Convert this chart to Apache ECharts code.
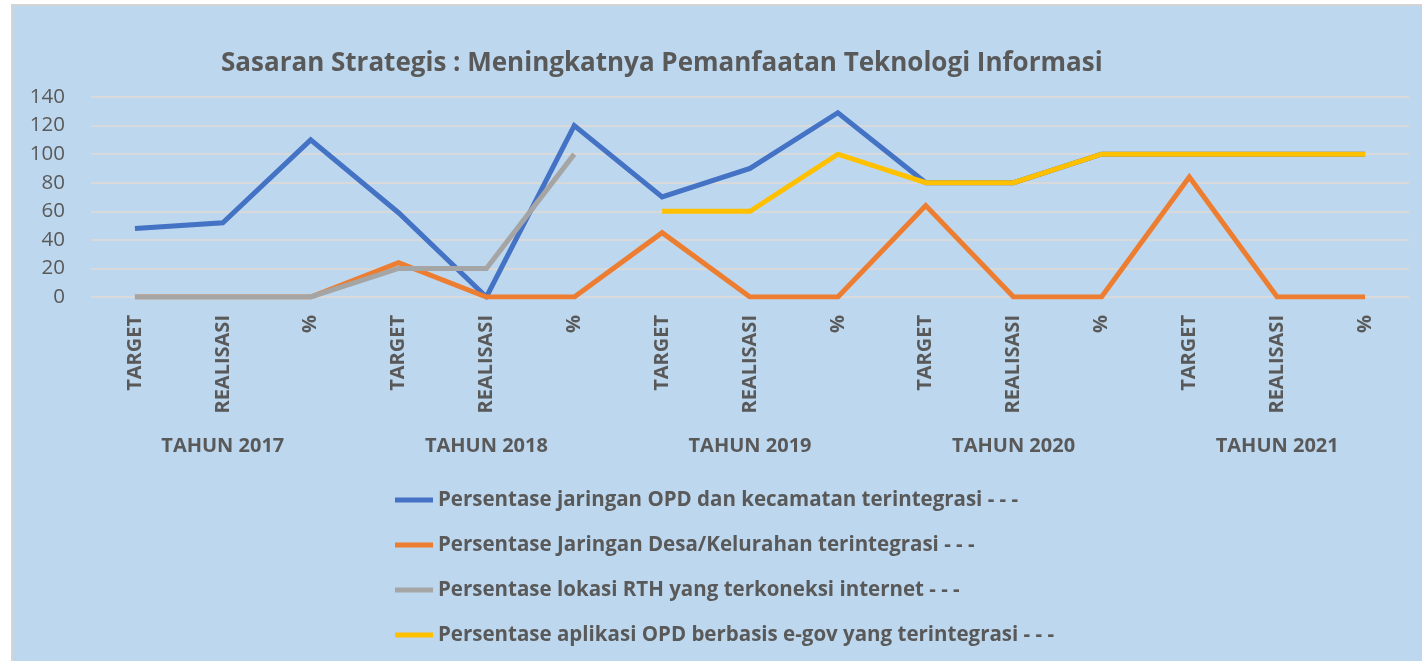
<!DOCTYPE html>
<html>
<head>
<meta charset="utf-8">
<title>Sasaran Strategis</title>
<script src="https://cdn.jsdelivr.net/npm/echarts@6/dist/echarts.min.js"></script>
<style>
  html, body { margin: 0; padding: 0; background: #ffffff; }
  #chart { width: 1422px; height: 661px; }
</style>
</head>
<body>
<div id="chart"></div>
<script>
// categories
const categories = [
  'TARGET', 'REALISASI', '%',
  'TARGET', 'REALISASI', '%',
  'TARGET', 'REALISASI', '%',
  'TARGET', 'REALISASI', '%',
  'TARGET', 'REALISASI', '%'
];
const years = ['TAHUN 2017', 'TAHUN 2018', 'TAHUN 2019', 'TAHUN 2020', 'TAHUN 2021'];

// series values
const jaringanOPD = [48, 52, 110, 59, 0, 120, 70, 90, 129, 80, 80, 100, 100, 100, 100];
const jaringanDesa = [0, 0, 0, 24, 0, 0, 45, 0, 0, 64, 0, 0, 84, 0, 0];
const lokasiRTH = [0, 0, 0, 20, 20, 100, null, null, null, null, null, null, null, null, null];
const aplikasiOPD = [null, null, null, null, null, null, 60, 60, 100, 80, 80, 100, 100, 100, 100];

const seriesNames = [
  'Persentase jaringan OPD dan kecamatan terintegrasi - - -',
  'Persentase Jaringan Desa/Kelurahan terintegrasi - - -',
  'Persentase lokasi RTH yang terkoneksi internet - - -',
  'Persentase aplikasi OPD berbasis e-gov yang terintegrasi - - -'
];
const colors = ['#4472C4', '#ED7D31', '#A5A5A5', '#FFC000'];

const textColor = '#595959';
const font = '"Open Sans", Lato, sans-serif';

const chart = echarts.init(document.getElementById('chart'));

function lineSeries(i, data) {
  return {
    name: seriesNames[i],
    type: 'line',
    data: data,
    symbol: 'none',
    lineStyle: { width: 5, color: colors[i], cap: 'butt', join: 'miter' },
    itemStyle: { color: colors[i] },
    z: 2 + i,
    animation: false
  };
}

const option = {
  animation: false,
  textStyle: { fontFamily: font },
  graphic: [
    {
      type: 'rect',
      shape: { x: 12, y: 5, width: 1420, height: 670 },
      style: { fill: '#BDD7EE', stroke: '#D4D4D4', lineWidth: 2 },
      z: -10
    }
  ],
  title: {
    text: 'Sasaran Strategis : Meningkatnya Pemanfaatan Teknologi Informasi',
    left: 216,
    top: 46,
    textStyle: { fontFamily: font, fontSize: 26, fontWeight: 'bold', color: textColor }
  },
  legend: {
    orient: 'vertical',
    left: 390,
    top: 483,
    itemWidth: 38,
    itemHeight: 5,
    itemGap: 21,
    icon: 'rect',
    textStyle: { fontFamily: font, fontSize: 20.5, fontWeight: 'bold', color: textColor, lineHeight: 24 },
    data: seriesNames
  },
  grid: { left: 91, right: 13, top: 97, bottom: 364, containLabel: false },
  xAxis: [
    {
      type: 'category',
      data: categories,
      boundaryGap: true,
      axisLine: { show: false },
      axisTick: { show: false },
      axisLabel: {
        rotate: 90,
        interval: 0,
        margin: 18,
        fontFamily: font,
        fontSize: 20,
        fontWeight: 'bold',
        color: textColor
      }
    },
    {
      type: 'category',
      data: years,
      position: 'bottom',
      boundaryGap: true,
      axisLine: { show: false },
      axisTick: { show: false },
      axisLabel: {
        interval: 0,
        margin: 139,
        fontFamily: font,
        fontSize: 20,
        fontWeight: 'bold',
        color: textColor
      }
    }
  ],
  yAxis: {
    type: 'value',
    min: 0,
    max: 140,
    interval: 20,
    axisLine: { show: false },
    axisTick: { show: false },
    axisLabel: { margin: 26, fontFamily: font, fontSize: 20.5, color: textColor },
    splitLine: { lineStyle: { color: '#D9D9D9', width: 2 } }
  },
  series: [
    lineSeries(0, jaringanOPD),
    lineSeries(1, jaringanDesa),
    lineSeries(2, lokasiRTH),
    lineSeries(3, aplikasiOPD)
  ]
};

chart.setOption(option);
</script>
</body>
</html>
